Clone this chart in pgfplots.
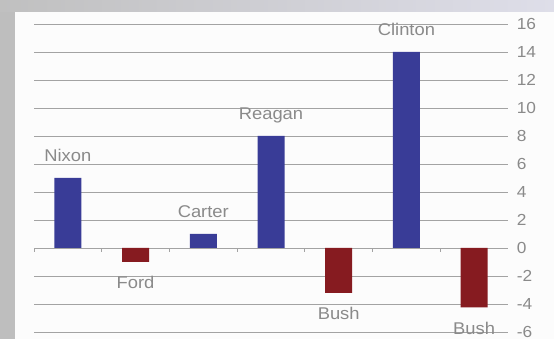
\documentclass[border=0pt]{standalone}
\usepackage{pgfplots}
\pgfplotsset{compat=1.18}
\usepackage{fontspec}
\setmainfont{Liberation Sans}
\definecolor{txtgray}{HTML}{8A8A8A}
\definecolor{gridgray}{HTML}{A3A3A3}
\definecolor{barblue}{HTML}{393C97}
\definecolor{barred}{HTML}{861B20}
\definecolor{leftgray}{HTML}{BEBEBE}
\definecolor{topleft}{HTML}{C0C0C0}
\definecolor{topright}{HTML}{DEDEE9}
\definecolor{panel}{HTML}{FCFCFC}
\begin{document}
\begin{tikzpicture}
\fill[leftgray] (0,0) rectangle (15pt,339pt);
\shade[left color=topleft, right color=topright] (0,327pt) rectangle (554pt,339pt);
\fill[panel] (15pt,0) rectangle (554pt,327pt);
\begin{axis}[
  at={(34pt,7pt)}, anchor=south west,
  scale only axis, width=474pt, height=308pt,
  xmin=-0.5, xmax=6.5, ymin=-6, ymax=16,
  clip=false,
  axis x line*=middle,
  axis y line*=right,
  x axis line style={draw=gridgray, line width=0.9pt},
  y axis line style={draw=none},
  xtick={-0.5,0.5,...,6.5},
  xticklabels={},
  xtick align=outside,
  major tick length=4pt,
  x tick style={draw=gridgray, line width=0.9pt},
  ytick={-6,-4,...,16},
  y tick style={draw=none},
  ymajorgrids,
  grid style={draw=gridgray, line width=0.9pt},
  /pgf/number format/assume math mode=true,
  yticklabel style={font=\fontsize{16}{16}\selectfont, text=txtgray, anchor=west, xshift=5pt, xscale=1.08},
  ybar, bar width=27pt, bar shift=0pt,
  nodes near coords,
  point meta=explicit symbolic,
]
\addplot[draw=none, fill=barblue,
  every node near coord/.style={font=\fontsize{17}{17}\selectfont, text=txtgray, anchor=base, inner sep=0pt, yshift=16pt, xscale=1.08}]
  table[x=x, y=y, meta=label] {
x y label
0 5 Nixon
2 1 Carter
3 8 Reagan
5 14 Clinton
};
\addplot[draw=none, fill=barred,
  every node near coord/.style={font=\fontsize{17}{17}\selectfont, text=txtgray, anchor=base, inner sep=0pt, yshift=-27pt, xscale=1.08}]
  table[x=x, y=y, meta=label] {
x y label
1 -1 Ford
4 -3.2 Bush
6 -4.25 Bush
};
\end{axis}
\pgfresetboundingbox
\path[use as bounding box] (0,0) rectangle (554pt,339pt);
\end{tikzpicture}
\end{document}
